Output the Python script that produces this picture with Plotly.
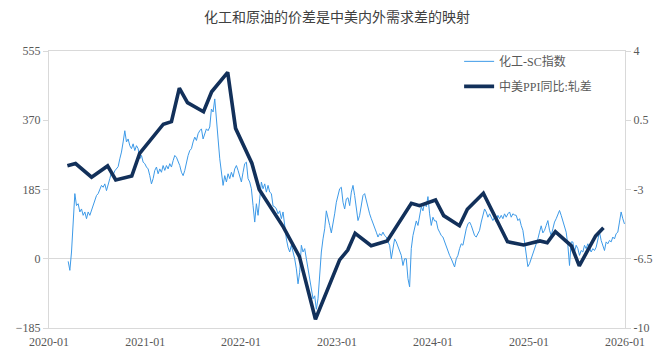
import pandas as pd
import plotly.graph_objects as go

TITLE = "化工和原油的价差是中美内外需求差的映射"
NAME_THIN = "化工-SC指数"
NAME_THICK = "中美PPI同比:轧差"

# 化工-SC指数 (left axis), evenly spaced readings between these dates
thin_start = "2020-03-14"
thin_end = "2025-12-30"
thin_values = [
    -7, -31, 18, 89, 174, 142, 147, 125, 133, 116, 125, 107, 125, 116, 129, 138, 151, 169, 174, 187,
    196, 191, 200, 182, 196, 214, 231, 224, 235, 240, 246, 267, 285, 312, 342, 312, 320, 302, 294, 307,
    289, 302, 294, 267, 276, 258, 254, 245, 240, 222, 200, 214, 236, 245, 227, 240, 231, 249, 236, 249,
    240, 254, 245, 262, 276, 271, 262,
    249, 231, 222, 236, 258, 276, 289, 294, 312, 325, 316, 334, 342, 347, 320, 334, 347, 342, 352, 400,
    392, 427, 383, 320, 267, 231, 196, 222, 205, 227, 214, 231, 218, 240, 249, 236, 222, 205, 231, 254,
    258, 214, 205, 187, 142, 98, 147, 116, 160, 205, 187, 200, 178, 196, 178, 174, 141, 139, 133, 120,
    128, 107, 125, 80, 53, 31, 18, 36, 18,
    0, -27, -67, -36, 36, 18, 27, 0, -27, -53, -89, -107, -99, -135, -107, -40, 18, 53, 80, 128,
    104, 89, 69, 91, 120, 151, 169, 187, 191, 151, 133, 160, 163, 142, 178, 196, 169, 133, 102, 116,
    142, 169, 174, 156, 133, 120, 107, 93, 80, 71, 58, 67, 62, 71, 62, 58, 45, 36, 0, 27,
    53, 45, 31, 18, 9, -18, 0, 0, -53, -75,
    27, 62, 85, 101, 89, 120, 139, 128, 151, 139, 166, 120, 89, 111, 101, 101, 80, 71, 62, 58,
    45, 36, 22, 9, 0, -9, -22, 0, 9, 27, 40, 36, 62, 80, 93, 98, 89, 76, 62, 58,
    67, 76, 98, 116, 133, 125, 111, 120, 111, 102, 111, 98, 116, 107, 116, 107, 120, 111, 120, 125,
    111, 120, 117, 116, 102, 107, 89, 76, 45,
    9, -21, -13, 0, 9, 27, 40, 53, 71, 88, 69, 76, 89, 102, 76, 62, 80, 98, 107, 120,
    129, 116, 102, 89, 71, 36, -18, 45, 45, 18, 36, 27, 9, 22, 18, 36, 27, 40, 31, 18,
    27, 22, 31, 53, 71, 49, 36, 22, 45, 40, 49, 45, 58, 53, 67, 71, 98, 125, 107, 93,
]

# 中美PPI同比:轧差 (right axis), monthly turning points
ppi_dates = [
    "2020-03-11", "2020-04-11", "2020-06-11", "2020-08-11", "2020-09-11", "2020-11-11", "2020-12-11",
    "2021-03-11", "2021-04-11", "2021-05-11", "2021-06-11", "2021-08-11", "2021-09-11", "2021-11-11",
    "2021-12-11", "2022-02-11", "2022-03-11", "2022-06-11", "2022-08-11", "2022-10-11", "2023-01-11",
    "2023-02-11", "2023-03-11", "2023-05-11", "2023-07-11", "2023-10-11", "2023-11-11", "2024-01-11",
    "2024-02-11", "2024-04-11", "2024-05-11", "2024-07-11", "2024-10-11", "2024-12-11", "2025-02-11",
    "2025-03-11", "2025-04-11", "2025-06-11", "2025-07-11", "2025-09-11", "2025-10-11",
]
ppi_values = [
    -1.80, -1.69, -2.38, -1.81, -2.52, -2.32, -1.17,
    0.30, 0.43, 2.12, 1.39, 0.93, 1.94, 2.92,
    0.09, -1.67, -3.00, -4.90, -6.39, -9.56, -6.56,
    -6.06, -5.21, -5.84, -5.60, -3.70, -3.82, -3.53,
    -4.32, -4.83, -4.00, -3.19, -5.64, -5.80, -5.60,
    -5.69, -5.13, -5.85, -6.86, -5.35, -4.93,
]

left_ticks = [-185, 0, 185, 370, 555]
right_ticks = [-10, -6.5, -3, 0.5, 4]
right_labels = ["-10", "-6.5", "-3", "0.5", "4"]
x_ticks = ["2020-01-01", "2021-01-01", "2022-01-01", "2023-01-01", "2024-01-01", "2025-01-01", "2026-01-01"]
x_labels = ["2020-01", "2021-01", "2022-01", "2023-01", "2024-01", "2025-01", "2026-01"]

thin_dates = pd.date_range(thin_start, thin_end, periods=len(thin_values))

FONT = "Liberation Serif, Noto Sans CJK SC, serif"
GRID = "#d9d9d9"
TXT = "#595959"

fig = go.Figure()
fig.add_trace(go.Scatter(
    x=thin_dates, y=thin_values, name=NAME_THIN, mode="lines",
    line=dict(color="#3d9ae8", width=1), legendgroup="a",
))
fig.add_trace(go.Scatter(
    x=pd.to_datetime(ppi_dates), y=ppi_values, name=NAME_THICK, mode="lines",
    line=dict(color="#12305a", width=3.6), yaxis="y2", legendgroup="b",
))

fig.update_layout(
    width=669, height=359,
    margin=dict(l=49, r=44, t=51, b=31, autoexpand=False),
    paper_bgcolor="white", plot_bgcolor="white",
    font=dict(family=FONT, size=12, color=TXT),
    title=dict(text=TITLE, x=0.5, xref="paper", y=0.953, yref="container",
               xanchor="center", yanchor="middle", automargin=False,
               font=dict(family="Noto Sans CJK SC, sans-serif", size=14, color="#404040")),
    showlegend=True,
    legend=dict(x=0.712, y=1.015, xanchor="left", yanchor="top", bgcolor="rgba(0,0,0,0)",
                font=dict(family=FONT, size=12, color=TXT), tracegroupgap=6,
                itemwidth=30),
    xaxis=dict(
        type="date", range=["2020-01-01", "2026-01-01"], automargin=False,
        tickvals=x_ticks, ticktext=x_labels, tickangle=0,
        showgrid=False, zeroline=False,
        showline=True, linecolor=GRID, linewidth=1, mirror=True,
        ticks="", ticklabelstandoff=3, tickfont=dict(family=FONT, size=12, color=TXT),
    ),
    yaxis=dict(
        range=[-185, 555], tickvals=left_ticks, showgrid=False, automargin=False,
        zeroline=True, zerolinecolor=GRID, zerolinewidth=1,
        showline=True, linecolor=GRID, linewidth=1,
        ticks="outside", ticklen=5, tickcolor=GRID,
        tickfont=dict(family=FONT, size=12, color=TXT),
    ),
    yaxis2=dict(
        range=[-10, 4], tickvals=right_ticks, ticktext=right_labels, automargin=False,
        overlaying="y", side="right", showgrid=False, zeroline=False,
        showline=True, linecolor=GRID, linewidth=1,
        ticks="outside", ticklen=5, tickcolor=GRID,
        tickfont=dict(family=FONT, size=12, color=TXT),
    ),
)

fig.write_html(
    "out.html",
    config={"displayModeBar": False},
    post_script="document.body.style.margin='0';document.body.style.overflow='hidden';",
)
